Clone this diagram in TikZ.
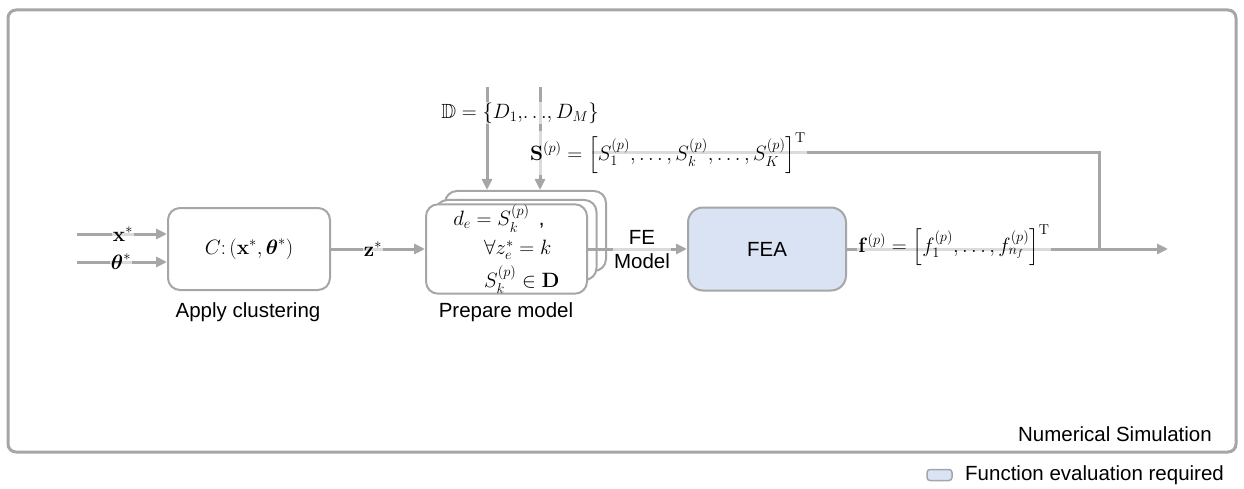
\documentclass[tikz,border=0pt]{standalone}
\usepackage{amsmath,amssymb}
\usepackage[no-math]{fontspec}
\setmainfont{Liberation Sans}
\usetikzlibrary{arrows.meta}
\definecolor{linegray}{HTML}{A6A6A6}
\definecolor{feablue}{HTML}{DAE3F3}

\begin{document}
\begin{tikzpicture}[x=1pt, y=-1pt,
    every node/.style={font=\fontsize{20.5}{24}\selectfont},
    blockbox/.style={draw=linegray, line width=2pt, rounded corners=12pt, fill=white,
                     minimum width=161pt, minimum height=80pt, inner sep=0pt},
    flow/.style={draw=linegray, line width=3pt, -{Triangle[length=11pt,width=10pt]}},
    wire/.style={draw=linegray, line width=3pt},
    onwire/.style={fill=white, fill opacity=0.6, text opacity=1, inner sep=1pt}]
\useasboundingbox (0,0) rectangle (1244,489);

% Outer frame
\draw[linegray, line width=3pt, rounded corners=8pt] (8,10) rectangle (1236,452);
\node[anchor=east, inner sep=0pt] (simcap) at (1212,434) {Numerical Simulation};

% Blocks
\node[blockbox, minimum width=162pt, minimum height=82pt] (clust) at (249,249) {$C{:}\,(\mathbf{x}^*,\boldsymbol{\theta}^*)$};
\node (clustcap) at (248,312) {Apply clustering};

\node[blockbox] (prep3) at (525.5,231) {};
\node[blockbox] (prep2) at (516,240) {};
\node[blockbox, align=left] (prep1) at (506.5,249) {$d_e = S_k^{(p)}$\;\,,\\[5pt]\hspace{1.5em}$\forall z_e^* = k$\\[5pt]\hspace{1.5em}$S_k^{(p)} \in \mathbf{D}$};
\node (prepcap) at (506,312) {Prepare model};

\node[blockbox, fill=feablue, rounded corners=15pt, minimum width=158pt, minimum height=83pt] (fea) at (767,249) {FEA};

% Inputs
\coordinate (xin) at (77,234);
\coordinate (thin) at (77,262);
\draw[flow] (xin) -- (xin -| clust.west);
\draw[flow] (thin) -- (thin -| clust.west);
\node[onwire] (xlab) at (123,234) {$\mathbf{x}^*$};
\node[onwire] (thlab) at (121,262) {$\boldsymbol{\theta}^*$};

\coordinate (din) at (487,87);
\coordinate (sin) at (540,87);
\draw[flow] (din) -- (din |- prep3.north);
\draw[flow] (sin) -- (sin |- prep3.north);
\node[onwire] (dset) at (520,113) {$\mathbb{D} = \{D_1,\!\ldots\!,D_M\}$};

% Flow between blocks
\draw[flow] (clust.east) -- (prep1.west);
\node[onwire] (zlab) at (373,249) {$\mathbf{z}^*$};
\draw[flow] (prep1.east) -- (fea.west);
\node[onwire, align=center] (femodel) at (642,250) {FE\\Model};

% Outputs
\coordinate (sstart) at (592,153);
\coordinate (join) at (1099,249);
\coordinate (out) at (1168,249);
\draw[flow] (fea.east) -- (out);
\draw[wire] (sstart) -- (sstart -| join) -- (join);
\node[onwire] (svec) at (668,153) {$\mathbf{S}^{(p)} = \left[S_1^{(p)},\ldots,S_k^{(p)},\ldots,S_K^{(p)}\right]^{\mathrm{T}}$};
\node[onwire] (fvec) at (954,245) {$\mathbf{f}^{(p)} = \left[f_1^{(p)},\ldots,f_{n_f}^{(p)}\right]^{\mathrm{T}}$};

% Legend
\node[draw=linegray, fill=feablue, line width=1.5pt, rounded corners=3pt, minimum width=25pt,
      minimum height=11pt, inner sep=0pt] (legbox) at (939.5,475) {};
\node[anchor=west, inner sep=0pt] (legtext) at (965,475) {Function evaluation required};

\end{tikzpicture}
\end{document}
